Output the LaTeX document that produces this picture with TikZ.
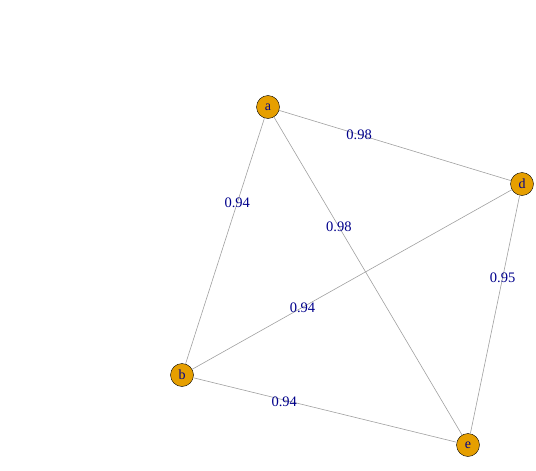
\documentclass[tikz,border=0pt]{standalone}
\usepackage{fontspec}
\setmainfont{Liberation Serif}
\usepackage{tikz}

\definecolor{vfill}{HTML}{E69F00}
\definecolor{lblue}{HTML}{00008B}
\definecolor{egray}{HTML}{A0A0A0}

\begin{document}
\begin{tikzpicture}[x=1pt,y=-1pt,
  vertex/.style={circle,draw=black,fill=vfill,minimum size=23pt,inner sep=0pt,text=lblue,font=\fontsize{14}{14}\selectfont},
  edge/.style={draw=egray,line width=0.6pt},
  weight/.style={pos=0.345,text=lblue,inner sep=0pt,font=\fontsize{14.5}{14.5}\selectfont}]
\useasboundingbox (0,0) rectangle (536,471);

% vertices:
\path (268,107) node[vertex] (a) {a};
\path (522,184) node[vertex] (d) {d};
\path (182,375) node[vertex] (b) {b};
\path (468,445) node[vertex] (e) {e};

% edges with weights:
\draw[edge] (a) -- node[weight] {0.98} (d);
\draw[edge] (a) -- node[weight] {0.94} (b);
\draw[edge] (a) -- node[weight] {0.98} (e);
\draw[edge] (b) -- node[weight] {0.94} (d);
\draw[edge] (d) -- node[weight] {0.95} (e);
\draw[edge] (b) -- node[weight,yshift=-2pt] {0.94} (e);

\end{tikzpicture}
\end{document}
